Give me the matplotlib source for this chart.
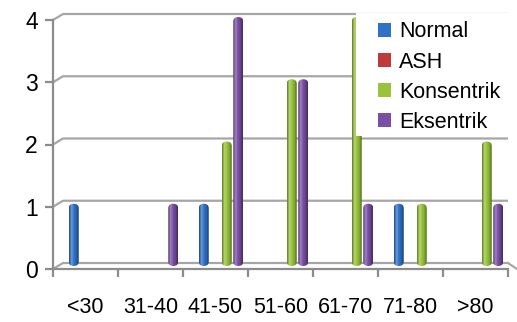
import numpy as np
import matplotlib
matplotlib.use("Agg")
import matplotlib.pyplot as plt
from matplotlib.colors import LinearSegmentedColormap, to_rgb
from matplotlib.patches import FancyBboxPatch, Patch, Rectangle

plt.rcParams['font.family'] = ['Liberation Sans', 'DejaVu Sans']

# age groups and counts per LV geometry type
categories = ['<30', '31-40', '41-50', '51-60', '61-70', '71-80', '>80']
normal = [1, 0, 1, 0, 0, 1, 0]
ash = [0, 0, 0, 0, 0, 0, 0]
konsentrik = [0, 0, 2, 3, 4, 1, 2]
eksentrik = [0, 1, 4, 3, 1, 0, 1]

series = [('Normal', normal, '#2f72c8'),
          ('ASH', ash, '#c0393b'),
          ('Konsentrik', konsentrik, '#98c43a'),
          ('Eksentrik', eksentrik, '#7a4fa6')]

fig = plt.figure(figsize=(5.17, 3.22), dpi=100)
W, H = 517, 322
# axes spans pixel x 53..517, y 8..269
ax = fig.add_axes([53 / W, 1 - 269 / H, (517 - 53) / W, (269 - 8) / H])
px_x = 65.0    # pixels per category
px_y = 62.25   # pixels per unit
xmax = 464 / px_x
ymin, ymax = -3 / px_y, 258 / px_y

d = 3 / px_y        # depth offset of the back wall
dx = 10 / px_x
grid_c = '#a6a6a6'

# back wall gridlines with the perspective step at the left
for v in range(5):
    ax.plot([0, dx, 7.0], [v - d, v + d, v + d], color=grid_c, lw=1.6,
            solid_capstyle='butt', zorder=1, clip_on=False)
ax.plot([7.0, xmax], [d, -d], color=grid_c, lw=1.6, zorder=1, clip_on=False)

x0 = np.arange(len(categories)) + 0.5 + 5.5 / px_x
slot = 11.5 / px_x
bw = 10 / px_x


def shade(color):
    c = np.array(to_rgb(color))
    light = c + (1 - c) * 0.3
    return LinearSegmentedColormap.from_list(
        'cyl', [c * 0.62, light, c, c * 0.85, c * 0.55])


grad = np.linspace(0, 1, 64).reshape(1, -1)
for k, (name, vals, col) in enumerate(series):
    bars = ax.bar(x0 + (k - 1.5) * slot, vals, width=bw, color=col, zorder=2)
    cmap = shade(col)
    for b in bars:
        h = b.get_height()
        b.set_visible(False)
        if h <= 0:
            continue
        xl, w = b.get_x(), b.get_width()
        r = w * 0.5
        cap = FancyBboxPatch((xl, 0), w, h,
                             boxstyle='round,pad=0,rounding_size=%f' % r,
                             mutation_aspect=(4.5 / px_y) / r,
                             fc='none', ec='none', zorder=2)
        ax.add_patch(cap)
        im = ax.imshow(grad, cmap=cmap, extent=(xl, xl + w, 0, h),
                       aspect='auto', interpolation='bilinear', zorder=3)
        im.set_clip_path(cap)

ax.set_xlim(0, xmax)
ax.set_ylim(ymin, ymax)

for s in ['top', 'right']:
    ax.spines[s].set_visible(False)
ax.spines['left'].set_bounds(-d, 4 - d)
ax.spines['bottom'].set_bounds(0, 7.0)
for s in ['left', 'bottom']:
    ax.spines[s].set_color('#8c8c8c')
    ax.spines[s].set_linewidth(1.6)

ax.set_yticks([v - d for v in range(5)])
ax.set_yticklabels([str(v) for v in range(5)], fontsize=16.5)
ax.set_xticks(np.arange(8))
ax.set_xticklabels([])
ax.set_xticks(np.arange(7) + 0.5, minor=True)
ax.set_xticklabels(categories, minor=True, fontsize=15.5)
ax.tick_params(axis='both', which='major', length=6, width=1.6, color='#8c8c8c')
ax.tick_params(axis='y', pad=5)
ax.tick_params(axis='x', which='minor', length=0, pad=20)

# white legend panel covering the upper right corner
fig.patches.append(Rectangle((356 / W, 1 - 136 / H), (517 - 356) / W, 123 / H,
                             transform=fig.transFigure, fc='white', ec='none',
                             zorder=5))

handles = [Patch(facecolor=c, edgecolor='none', label=n) for n, _, c in series]
leg = fig.legend(handles=handles, loc='upper left',
                 bbox_to_anchor=(372 / W, 1 - 15 / H), fontsize=15.5,
                 frameon=False,
                 handlelength=0.6, handleheight=0.6, handletextpad=0.35,
                 labelspacing=0.42, borderpad=0.3, borderaxespad=0)
leg.set_zorder(10)

fig.savefig('out.png', dpi=100)
